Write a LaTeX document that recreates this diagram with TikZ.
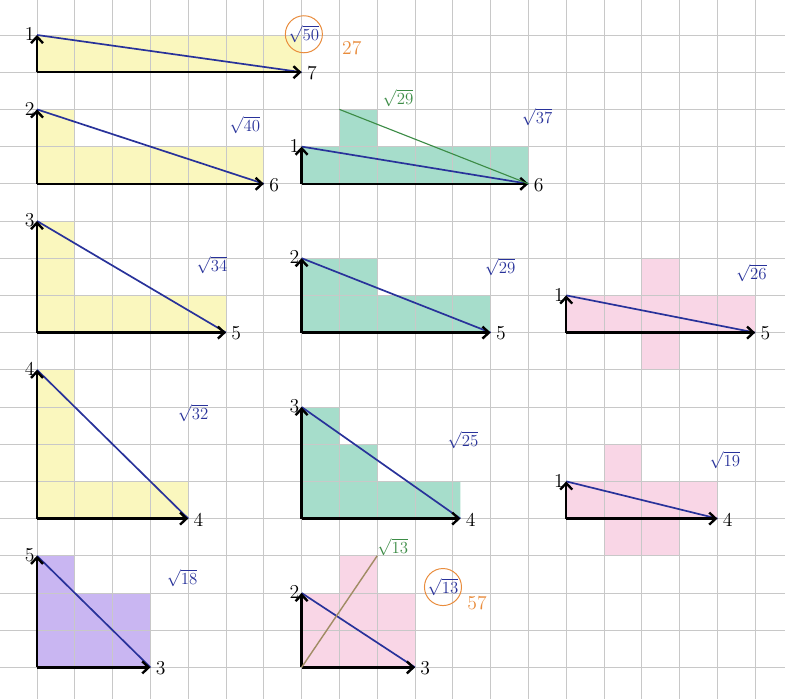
\documentclass[tikz,border=0pt]{standalone}
\usepackage{tikz}
\usepackage{xcolor}
\usepackage{amsmath}
\usetikzlibrary{arrows.meta}
\usetikzlibrary{calc,positioning}
\definecolor{colorYellow}{HTML}{FAF7BE}
\definecolor{colorTeal}{HTML}{A6DDCB}
\definecolor{colorPink}{HTML}{F9D6E6}
\definecolor{colorPurple}{HTML}{C9B6F2}
\definecolor{colorInk}{HTML}{28329A}
\definecolor{colorOrange}{HTML}{E98C3C}
\definecolor{colorGreen}{HTML}{3C8C46}
\definecolor{colorBrown}{HTML}{A08C64}
\definecolor{colorGrid}{HTML}{C8C8C8}
\def\colorInk{colorInk}
\def\colorOrange{colorOrange}
\def\colorGreen{colorGreen}

\begin{document}
\begin{tikzpicture}[x=0.945cm, y=0.93cm,
  axisline/.style={line width=1.7pt, black, -{Straight Barb[length=1.6mm, width=3mm]}},
  hypline/.style={line width=1.2pt, color=\colorInk},
  gridline/.style={colorGrid, line width=0.5pt},
  numlabel/.style={inner sep=1pt, font=\fontsize{14pt}{16pt}\selectfont},
  rootlabel/.style={inner sep=1pt, color=\colorInk, font=\fontsize{13pt}{16pt}\selectfont}]

  \useasboundingbox (-0.979,0.941) rectangle (19.788,-17.849);
  \fill[white] (-0.979,0.941) rectangle (19.788,-17.849);

  % Markierungen
  \fill[colorYellow] (0,0) rectangle (7,-1);
  \fill[colorYellow] (0,-2) rectangle (1,-4) (0,-3) rectangle (6,-4);
  \fill[colorYellow] (0,-5) rectangle (1,-8) (0,-7) rectangle (5,-8);
  \fill[colorYellow] (0,-9) rectangle (1,-13) (0,-12) rectangle (4,-13);
  \fill[colorPurple] (0,-14) rectangle (1,-17) (0,-15) rectangle (3,-17);
  \fill[colorTeal] (7,-3) rectangle (13,-4) (8,-2) rectangle (9,-3);
  \fill[colorTeal] (7,-6) rectangle (9,-7) (7,-7) rectangle (12,-8);
  \fill[colorTeal] (7,-10) rectangle (8,-13) (8,-11) rectangle (9,-13) (9,-12) rectangle (11.2,-13);
  \fill[colorPink] (7,-15) rectangle (10,-17) (8,-14) rectangle (9,-15);
  \fill[colorPink] (14,-7) rectangle (19,-8) (16,-6) rectangle (17,-9);
  \fill[colorPink] (14,-12) rectangle (18,-13) (15,-11) rectangle (16,-14) (16,-13) rectangle (17,-14);

  % Karopapier
  \foreach \k in {-1,...,19}
    \draw[gridline] (\k,0.941) -- (\k,-17.849);
  \foreach \j in {0,...,17}
    \draw[gridline] (-0.979,-\j) -- (19.788,-\j);

  \newcommand{\triaxes}[7]{%
    \coordinate (#1o) at ({#2},{-#3});
    \coordinate (#1t) at ({#2},{#5-#3});
    \coordinate (#1e) at ({#2+#4},{-#3});
    \draw[hypline] (#1t) -- (#1e);
    \draw[axisline] (#1o) -- (#1t);
    \draw[axisline] (#1o) -- (#1e);
    \node[numlabel, anchor=south east] (#1v) at ($(#1t)+(-0.02,-0.2)$) {#6};
    \node[numlabel, anchor=north west] (#1h) at ($(#1e)+(0.1,0.2)$) {#7};
  }

  \triaxes{a}{0}{1}{7}{1}{1}{7}
  \triaxes{b}{0}{4}{6}{2}{2}{6}
  \triaxes{c}{7}{4}{6}{1}{1}{6}
  \triaxes{d}{0}{8}{5}{3}{3}{5}
  \triaxes{e}{7}{8}{5}{2}{2}{5}
  \triaxes{f}{14}{8}{5}{1}{1}{5}
  \triaxes{g}{0}{13}{4}{4}{4}{4}
  \triaxes{h}{7}{13}{4.2}{3}{3}{4}
  \triaxes{i}{14}{13}{4}{1}{1}{4}
  \triaxes{j}{0}{17}{3}{3}{5}{3}
  \triaxes{k}{7}{17}{3}{2}{2}{3}

  % Zusatzstrecken
  \coordinate (cs) at (8,-2);
  \draw[colorGreen, line width=0.8pt] (cs) -- (ce);
  \coordinate (kz) at (9,-14);
  \draw[colorBrown, line width=1pt] (ko) -- (kz);
  \node[rootlabel, colorGreen, anchor=south west, inner sep=0pt] (ksq) at (kz) {$\sqrt{13}$};
  \node[rootlabel, colorGreen] (csq) at (9.55,-1.69) {$\sqrt{29}$};

  % Laengen
  \node[rootlabel, draw=\colorOrange, circle, inner sep=0.5pt, line width=0.7pt] (asq) at (7.06,0.02) {$\sqrt{50}$};
  \node[numlabel, color=\colorOrange] (acnt) at (8.33,-0.35) {27};
  \node[rootlabel] (bsq) at (5.5,-2.42) {$\sqrt{40}$};
  \node[rootlabel] (csq2) at (13.23,-2.2) {$\sqrt{37}$};
  \node[rootlabel] (dsq) at (4.63,-6.18) {$\sqrt{34}$};
  \node[rootlabel] (esq) at (12.25,-6.24) {$\sqrt{29}$};
  \node[rootlabel] (fsq) at (18.9,-6.4) {$\sqrt{26}$};
  \node[rootlabel] (gsq) at (4.13,-10.16) {$\sqrt{32}$};
  \node[rootlabel] (hsq) at (11.27,-10.89) {$\sqrt{25}$};
  \node[rootlabel] (isq) at (18.2,-11.42) {$\sqrt{19}$};
  \node[rootlabel] (jsq) at (3.84,-14.6) {$\sqrt{18}$};
  \node[rootlabel, draw=\colorOrange, circle, inner sep=0.5pt, line width=0.7pt] (ksq2) at (10.74,-14.84) {$\sqrt{13}$};
  \node[numlabel, color=\colorOrange] (kcnt) at (11.64,-15.27) {57};

\end{tikzpicture}
\end{document}
